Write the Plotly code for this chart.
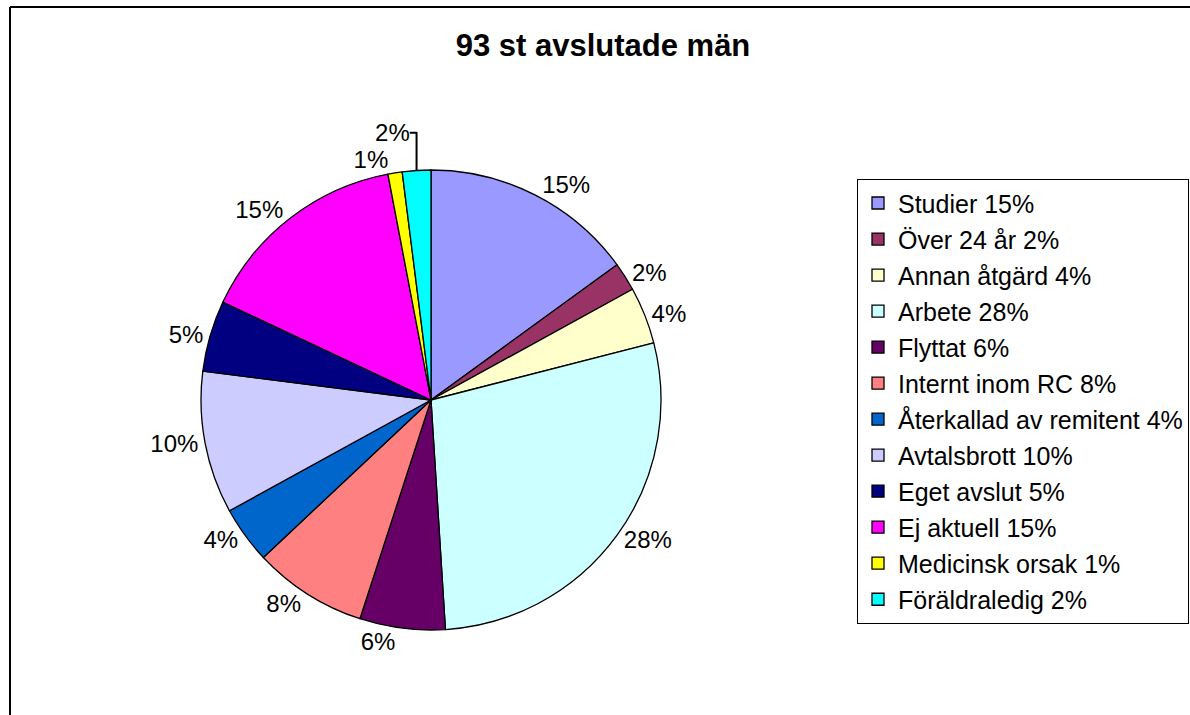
import plotly.graph_objects as go

categories = ["Studier", "Över 24 år", "Annan åtgärd", "Arbete", "Flyttat",
              "Internt inom RC", "Återkallad av remitent", "Avtalsbrott",
              "Eget avslut", "Ej aktuell", "Medicinsk orsak", "Föräldraledig"]
percent = [15, 2, 4, 28, 6, 8, 4, 10, 5, 15, 1, 2]
colors = ["#9999FF", "#993366", "#FFFFCC", "#CCFFFF", "#660066", "#FF8080",
          "#0066CC", "#CCCCFF", "#000080", "#FF00FF", "#FFFF00", "#00FFFF"]
title_text = "93 st avslutade män"

W, H = 1190, 715
FONT = "Liberation Sans, Arial, sans-serif"

legend_labels = [f"<span style='font-size:25px'>{c} {p}%</span>"
                 for c, p in zip(categories, percent)]

cx, cy, r = 431, 400, 230

fig = go.Figure()
fig.add_trace(go.Pie(
    labels=legend_labels,
    values=percent,
    text=[f"{p}%" for p in percent],
    textinfo="text",
    textposition="outside",
    sort=False,
    direction="clockwise",
    rotation=0,
    marker=dict(colors=colors, line=dict(color="black", width=1.3)),
    outsidetextfont=dict(family=FONT, size=24, color="black"),
    domain=dict(x=[(cx - r) / W, (cx + r) / W],
                y=[1 - (cy + r) / H, 1 - (cy - r) / H]),
    hoverinfo="label+value",
))

fig.update_layout(
    width=W, height=H,
    margin=dict(l=0, r=0, t=0, b=0),
    paper_bgcolor="white",
    plot_bgcolor="white",
    font=dict(family=FONT, color="black"),
    title=dict(text=f"<b>{title_text}</b>", x=603 / W, xanchor="center",
               y=1 - 45 / H, yanchor="middle",
               font=dict(family=FONT, size=31, color="black")),
    showlegend=True,
    legend=dict(
        x=857 / W, xanchor="left", y=1 - 179 / H, yanchor="top",
        bordercolor="black", borderwidth=1, bgcolor="white",
        font=dict(family=FONT, size=25.4, color="black"),
        itemwidth=30,
        traceorder="normal",
    ),
    shapes=[
        dict(type="line", xref="paper", yref="paper",
             x0=10 / W, x1=1.0, y0=1 - 7 / H, y1=1 - 7 / H,
             line=dict(color="black", width=2)),
        dict(type="line", xref="paper", yref="paper",
             x0=10 / W, x1=10 / W, y0=0, y1=1 - 7 / H,
             line=dict(color="black", width=2)),
    ],
)

fig.write_html("out.html",
               config={"displayModeBar": False},
               post_script="document.body.style.margin='0';"
                           "document.body.style.overflow='hidden';")
